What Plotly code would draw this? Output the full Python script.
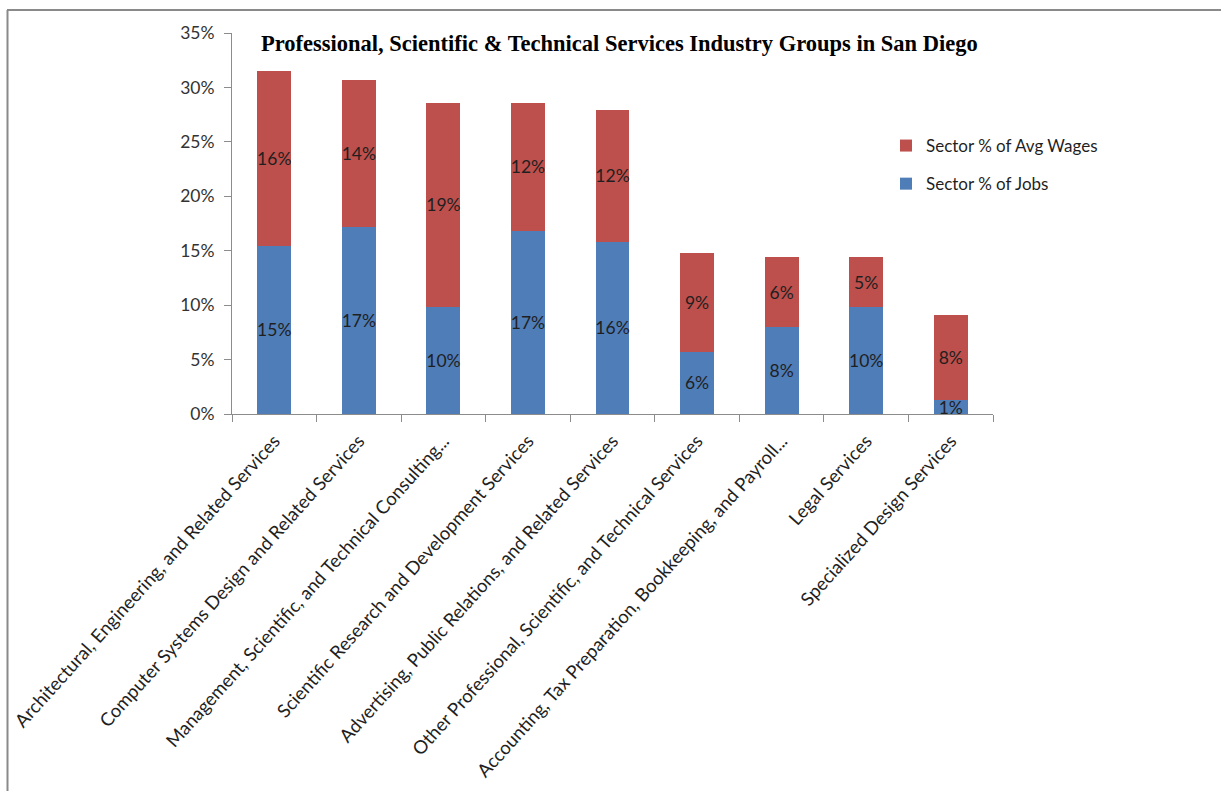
import plotly.graph_objects as go

# Industry groups (x-axis categories)
categories = [
    "Architectural, Engineering, and Related Services",
    "Computer Systems Design and Related Services",
    "Management, Scientific, and Technical Consulting...",
    "Scientific Research and Development Services",
    "Advertising, Public Relations, and Related Services",
    "Other Professional, Scientific, and Technical Services",
    "Accounting, Tax Preparation, Bookkeeping, and Payroll...",
    "Legal Services",
    "Specialized Design Services",
]

# Sector share of jobs (%)
jobs_share = [15.47, 17.15, 9.85, 16.85, 15.84, 5.71, 7.98, 9.79, 1.26]

# Sector share of average wages (%)
wages_share = [16.03, 13.55, 18.75, 11.75, 12.06, 9.09, 6.41, 4.60, 7.86]

y_ticks = [0, 5, 10, 15, 20, 25, 30, 35]
y_tick_labels = ["0%", "5%", "10%", "15%", "20%", "25%", "30%", "35%"]

title_text = "Professional, Scientific & Technical Services Industry Groups in San Diego"

# ---- layout geometry (pixels) ----
W, H = 1221, 791
L, R, T, B = 232, 993, 33, 414
PW, PH = R - L, B - T


def px_x(px):
    return (px - L) / PW


def px_y(py):
    return (B - py) / PH


BLUE = "#4F7DB8"
RED = "#BD4F4C"
TEXT = "#1f1f1f"
AXIS = "#8c8c8c"
FONT = "Lato, 'Open Sans', sans-serif"

fig = go.Figure()

fig.add_trace(go.Bar(
    name="Sector % of Jobs",
    x=categories,
    y=jobs_share,
    marker=dict(color=BLUE, line=dict(width=0)),
    texttemplate="%{y:.0f}%",
    textposition="inside",
    insidetextanchor="middle",
    textangle=0,
    constraintext="none",
    insidetextfont=dict(family=FONT, size=17.5, color=TEXT),
    legendgroup="jobs",
    legendrank=2,
    cliponaxis=False,
))

fig.add_trace(go.Bar(
    name="Sector % of Avg Wages",
    x=categories,
    y=wages_share,
    marker=dict(color=RED, line=dict(width=0)),
    texttemplate="%{y:.0f}%",
    textposition="inside",
    insidetextanchor="middle",
    textangle=0,
    constraintext="none",
    insidetextfont=dict(family=FONT, size=17.5, color=TEXT),
    legendgroup="wages",
    legendrank=1,
    cliponaxis=False,
))

fig.update_layout(
    width=W,
    height=H,
    margin=dict(l=L, r=W - R, t=T, b=H - B, autoexpand=False),
    paper_bgcolor="white",
    plot_bgcolor="white",
    barmode="stack",
    bargap=0.6,
    font=dict(family=FONT, size=16, color=TEXT),
    showlegend=True,
    legend=dict(
        x=px_x(886),
        y=px_y(128),
        xanchor="left",
        yanchor="top",
        traceorder="grouped",
        tracegroupgap=13,
        font=dict(family=FONT, size=17, color=TEXT),
        bgcolor="rgba(0,0,0,0)",
    ),
    xaxis=dict(
        type="category",
        tickangle=-48,
        tickson="boundaries",
        ticks="outside",
        ticklen=7,
        tickcolor=AXIS,
        showline=True,
        linecolor=AXIS,
        linewidth=1,
        showgrid=False,
        tickfont=dict(family=FONT, size=18.5, color=TEXT),
        ticklabelstandoff=8,
        automargin=False,
    ),
    yaxis=dict(
        range=[0, 35],
        tickmode="array",
        tickvals=y_ticks,
        ticktext=y_tick_labels,
        ticks="outside",
        ticklen=7,
        tickcolor=AXIS,
        showline=True,
        linecolor=AXIS,
        linewidth=1,
        showgrid=False,
        zeroline=False,
        tickfont=dict(family=FONT, size=17.5, color="#333333"),
        ticklabelstandoff=6,
        automargin=False,
    ),
    annotations=[
        dict(
            text="<b>" + title_text + "</b>",
            xref="paper", yref="paper",
            x=px_x(619), y=px_y(43),
            xanchor="center", yanchor="middle",
            showarrow=False,
            font=dict(family="'Liberation Serif', 'Times New Roman', serif", size=22.5, color="black"),
        )
    ],
    shapes=[
        # outer frame: top and left edges
        dict(type="line", xref="paper", yref="paper",
             x0=px_x(7), x1=px_x(W + 5), y0=px_y(10), y1=px_y(10),
             line=dict(color="#8a8a8a", width=2)),
        dict(type="line", xref="paper", yref="paper",
             x0=px_x(7.5), x1=px_x(7.5), y0=px_y(10), y1=px_y(H + 5),
             line=dict(color="#8a8a8a", width=2)),
    ],
)

fig.write_html("out.html")
